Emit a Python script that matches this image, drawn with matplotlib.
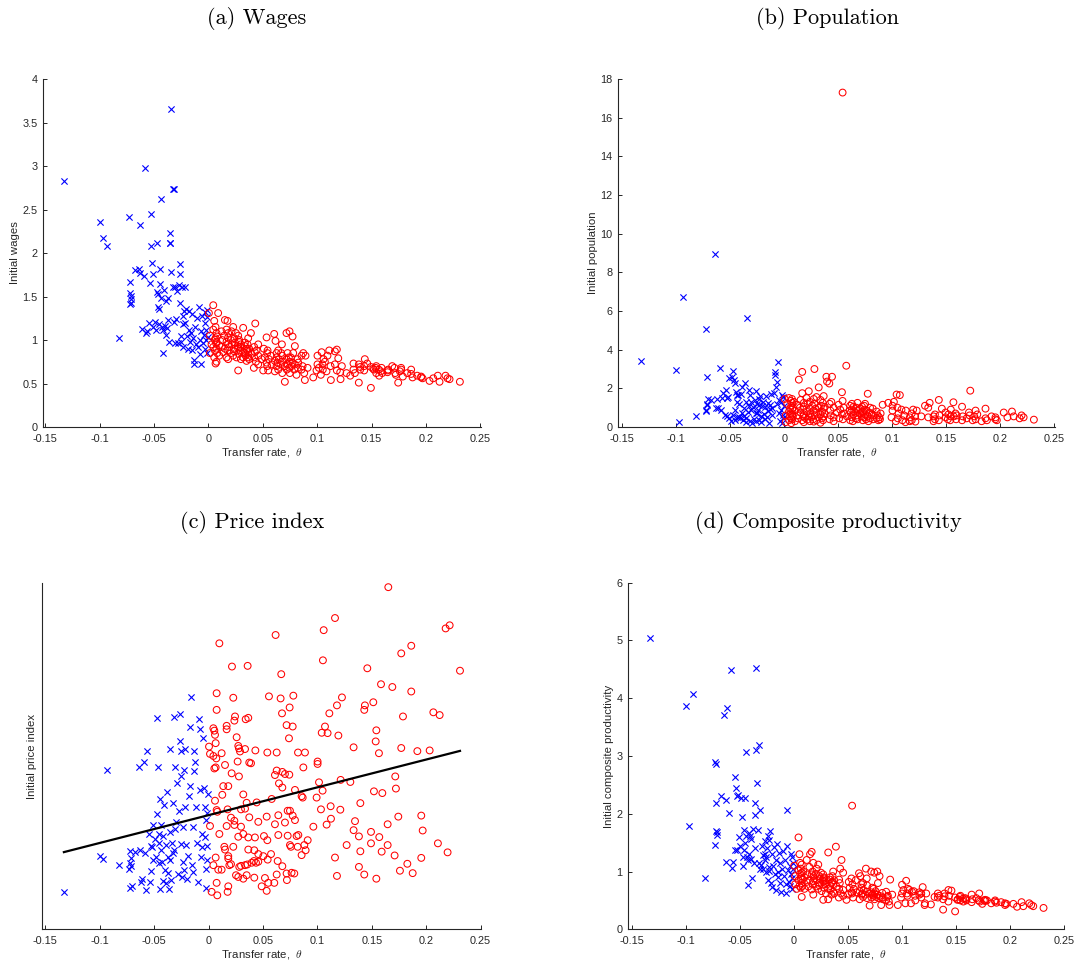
import numpy as np
import matplotlib
matplotlib.use("Agg")
import matplotlib.pyplot as plt
from matplotlib.ticker import FormatStrFormatter

plt.rcParams['font.family'] = ['Liberation Sans', 'DejaVu Sans']
plt.rcParams['mathtext.fontset'] = 'cm'

# ---------------------------------------------------------------- data
# locations with a negative transfer rate (blue crosses)
theta_neg = [-0.1330, -0.0998, -0.0973, -0.0935, -0.0820, -0.0728, -0.0724, -0.0722, -0.0720, -0.0716,
             -0.0712, -0.0708, -0.0676, -0.0643, -0.0630, -0.0625, -0.0615, -0.0595, -0.0585, -0.0575,
             -0.0563, -0.0548, -0.0539, -0.0532, -0.0527, -0.0523, -0.0514, -0.0508, -0.0493, -0.0484,
             -0.0477, -0.0471, -0.0465, -0.0460, -0.0456, -0.0452, -0.0448, -0.0442, -0.0440, -0.0436,
             -0.0425, -0.0422, -0.0415, -0.0410, -0.0400, -0.0395, -0.0392, -0.0382, -0.0375, -0.0370,
             -0.0362, -0.0358, -0.0355, -0.0352, -0.0346, -0.0340, -0.0330, -0.0325, -0.0320, -0.0315,
             -0.0310, -0.0305, -0.0298, -0.0288, -0.0280, -0.0270, -0.0265, -0.0262, -0.0258, -0.0255,
             -0.0250, -0.0242, -0.0235, -0.0232, -0.0230, -0.0228, -0.0220, -0.0214, -0.0205, -0.0198,
             -0.0190, -0.0183, -0.0175, -0.0168, -0.0160, -0.0153, -0.0147, -0.0141, -0.0134, -0.0130,
             -0.0125, -0.0116, -0.0110, -0.0098, -0.0090, -0.0082, -0.0076, -0.0070, -0.0065, -0.0060,
             -0.0051, -0.0045, -0.0035, -0.0030, -0.0028, -0.0024, -0.0020, -0.0016, -0.0012, -0.0010,
             -0.0006]
wage_neg = [2.83, 2.36, 2.17, 2.08, 1.02, 2.41, 1.41, 1.67, 1.54, 1.43,
            1.51, 1.47, 1.81, 1.82, 1.77, 2.32, 1.13, 1.74, 2.98, 1.08,
            1.10, 1.19, 1.66, 2.45, 2.08, 1.88, 1.15, 1.76, 1.21, 1.11,
            2.11, 1.55, 1.53, 1.38, 1.36, 1.18, 1.64, 1.82, 2.62, 1.48,
            1.15, 0.85, 1.11, 1.57, 1.16, 1.45, 1.06, 1.14, 1.48, 1.23,
            0.98, 2.23, 2.11, 2.11, 3.65, 1.78, 2.74, 1.61, 1.21, 2.74,
            0.97, 1.61, 1.24, 1.56, 0.97, 1.63, 1.87, 1.76, 1.42, 0.98,
            1.05, 1.61, 0.92, 1.18, 1.28, 1.33, 1.61, 1.20, 1.36, 1.05,
            0.90, 1.12, 1.33, 0.98, 1.08, 1.30, 0.88, 1.02, 0.77, 0.72,
            1.15, 0.95, 1.25, 0.92, 1.38, 1.00, 0.84, 0.73, 1.10, 1.28,
            0.96, 1.06, 1.20, 0.90, 1.32, 1.12, 1.00, 0.85, 1.26, 1.35,
            1.04]
pop_neg = [3.43, 2.95, 0.27, 6.72, 0.59, 5.05, 0.82, 0.88, 1.14, 2.57,
           1.20, 1.45, 1.40, 8.95, 1.00, 1.43, 0.97, 3.07, 0.88, 1.48,
           1.74, 0.62, 1.91, 1.48, 0.55, 1.55, 2.55, 0.45, 0.30, 2.60,
           0.62, 2.91, 2.43, 0.36, 0.88, 2.26, 1.83, 1.66, 0.50, 1.31,
           1.66, 0.53, 1.20, 0.45, 1.70, 0.70, 2.09, 0.36, 1.00, 0.55,
           2.26, 0.27, 1.30, 0.45, 5.65, 0.80, 1.91, 1.10, 0.30, 1.66,
           0.90, 1.31, 0.20, 1.05, 0.40, 1.40, 0.70, 1.85, 0.30, 1.20,
           0.75, 0.90, 1.15, 0.35, 1.45, 1.60, 0.55, 0.25, 1.10, 1.31,
           0.65, 1.05, 0.40, 1.60, 0.53, 0.85, 1.25, 0.20, 0.95, 1.14,
           1.70, 0.60, 1.00, 1.74, 2.86, 2.69, 2.09, 1.20, 2.34, 3.38,
           1.40, 0.75, 0.30, 1.30, 0.88, 0.20, 1.65, 1.55, 0.45, 0.60,
           1.10]
price_neg = [0.108, 0.211, 0.202, 0.460, 0.185, 0.175, 0.120, 0.226, 0.190, 0.182,
             0.205, 0.124, 0.224, 0.467, 0.228, 0.137, 0.144, 0.484, 0.221, 0.113,
             0.515, 0.275, 0.137, 0.240, 0.169, 0.238, 0.201, 0.301, 0.260, 0.210,
             0.609, 0.334, 0.469, 0.275, 0.250, 0.192, 0.375, 0.116, 0.300, 0.230,
             0.195, 0.140, 0.270, 0.360, 0.170, 0.243, 0.134, 0.397, 0.163, 0.209,
             0.115, 0.281, 0.520, 0.200, 0.142, 0.250, 0.219, 0.365, 0.612, 0.228,
             0.288, 0.469, 0.310, 0.423, 0.159, 0.342, 0.620, 0.543, 0.443, 0.246,
             0.513, 0.151, 0.296, 0.195, 0.460, 0.171, 0.519, 0.354, 0.243, 0.146,
             0.211, 0.384, 0.413, 0.583, 0.671, 0.185, 0.166, 0.296, 0.515, 0.458,
             0.484, 0.352, 0.250, 0.137, 0.606, 0.577, 0.402, 0.209, 0.275, 0.238,
             0.551, 0.407, 0.354, 0.265, 0.175, 0.118, 0.315, 0.336, 0.199, 0.240,
             0.390]
prod_neg = [5.05, 3.87, 1.79, 4.08, 0.88, 2.89, 1.46, 2.86, 2.18, 1.71,
            1.64, 1.69, 2.30, 3.71, 2.24, 1.16, 3.83, 2.01, 4.49, 1.06,
            1.16, 2.64, 1.38, 2.44, 2.30, 1.37, 2.32, 1.60, 1.45, 2.28,
            1.95, 1.10, 1.26, 1.72, 1.37, 2.28, 1.50, 3.07, 1.62, 1.25,
            0.77, 1.20, 1.66, 1.30, 1.61, 1.22, 1.57, 0.88, 1.74, 1.15,
            2.18, 1.97, 1.40, 3.10, 4.53, 2.54, 1.72, 1.15, 3.19, 1.05,
            2.06, 1.12, 1.45, 1.28, 1.05, 1.52, 1.20, 1.30, 1.26, 1.00,
            1.40, 1.62, 0.85, 1.55, 1.01, 1.08, 1.70, 0.80, 1.30, 0.74,
            1.10, 1.42, 0.95, 1.20, 0.68, 1.48, 1.00, 0.90, 1.32, 0.80,
            1.15, 0.65, 1.05, 1.35, 0.92, 1.20, 0.78, 0.63, 1.45, 2.06,
            1.02, 0.82, 1.10, 0.75, 0.95, 1.30, 1.25, 0.70, 0.88, 1.15,
            1.05]

# locations with a positive transfer rate (red circles)
theta_pos = [0.0004, 0.0013, 0.0013, 0.0028, 0.0044, 0.0044, 0.0044, 0.0053, 0.0053, 0.0059,
             0.0059, 0.0065, 0.0065, 0.0065, 0.0071, 0.0074, 0.0074, 0.0074, 0.0074, 0.0080,
             0.0080, 0.0089, 0.0099, 0.0099, 0.0120, 0.0120, 0.0126, 0.0135, 0.0145, 0.0151,
             0.0151, 0.0166, 0.0166, 0.0166, 0.0175, 0.0175, 0.0181, 0.0181, 0.0181, 0.0181,
             0.0191, 0.0206, 0.0206, 0.0212, 0.0215, 0.0227, 0.0227, 0.0237, 0.0237, 0.0237,
             0.0243, 0.0252, 0.0258, 0.0267, 0.0273, 0.0273, 0.0273, 0.0279, 0.0279, 0.0282,
             0.0289, 0.0298, 0.0298, 0.0298, 0.0319, 0.0319, 0.0319, 0.0335, 0.0335, 0.0335,
             0.0341, 0.0350, 0.0350, 0.0356, 0.0359, 0.0365, 0.0365, 0.0365, 0.0374, 0.0374,
             0.0390, 0.0396, 0.0417, 0.0420, 0.0420, 0.0426, 0.0430, 0.0436, 0.0442, 0.0457,
             0.0457, 0.0457, 0.0488, 0.0503, 0.0509, 0.0518, 0.0534, 0.0534, 0.0540, 0.0540,
             0.0543, 0.0549, 0.0555, 0.0574, 0.0580, 0.0604, 0.0610, 0.0610, 0.0616, 0.0626,
             0.0626, 0.0626, 0.0635, 0.0641, 0.0641, 0.0647, 0.0662, 0.0668, 0.0675, 0.0678,
             0.0678, 0.0678, 0.0702, 0.0702, 0.0717, 0.0717, 0.0720, 0.0727, 0.0727, 0.0739,
             0.0742, 0.0745, 0.0748, 0.0748, 0.0757, 0.0763, 0.0773, 0.0773, 0.0779, 0.0788,
             0.0794, 0.0794, 0.0809, 0.0819, 0.0822, 0.0825, 0.0855, 0.0855, 0.0865, 0.0871,
             0.0880, 0.0886, 0.0892, 0.0911, 0.0963, 0.0993, 0.1002, 0.1002, 0.1015, 0.1033,
             0.1040, 0.1048, 0.1051, 0.1058, 0.1070, 0.1085, 0.1094, 0.1110, 0.1122, 0.1125,
             0.1162, 0.1162, 0.1180, 0.1180, 0.1193, 0.1211, 0.1214, 0.1226, 0.1269, 0.1303,
             0.1333, 0.1333, 0.1346, 0.1382, 0.1382, 0.1395, 0.1395, 0.1431, 0.1431, 0.1437,
             0.1459, 0.1493, 0.1493, 0.1514, 0.1520, 0.1536, 0.1542, 0.1542, 0.1566, 0.1569,
             0.1585, 0.1591, 0.1597, 0.1646, 0.1646, 0.1652, 0.1689, 0.1710, 0.1716, 0.1722,
             0.1744, 0.1759, 0.1771, 0.1771, 0.1787, 0.1827, 0.1863, 0.1863, 0.1876, 0.1919,
             0.1955, 0.1955, 0.1968, 0.2032, 0.2066, 0.2108, 0.2124, 0.2179, 0.2197, 0.2216,
             0.2311]
wage_pos = [1.31, 0.85, 1.05, 0.95, 1.40, 0.92, 1.12, 1.22, 0.80, 1.00,
            0.88, 1.15, 0.73, 1.02, 0.96, 0.90, 1.08, 0.75, 0.98, 0.85,
            1.04, 1.31, 0.94, 0.82, 1.10, 0.92, 1.00, 0.86, 1.05, 1.23,
            0.90, 0.98, 1.12, 0.80, 1.22, 0.88, 1.03, 0.95, 0.78, 1.08,
            0.92, 1.00, 0.85, 1.10, 0.95, 0.82, 1.15, 0.90, 1.02, 0.87,
            0.97, 1.08, 0.80, 0.93, 1.05, 0.65, 0.90, 0.98, 0.84, 1.00,
            0.88, 0.95, 0.78, 0.92, 1.14, 0.86, 0.80, 0.93, 0.85, 0.97,
            0.82, 0.90, 0.76, 0.88, 0.95, 0.80, 0.86, 1.02, 0.78, 0.90,
            1.08, 0.84, 0.68, 0.92, 0.80, 0.86, 1.19, 0.75, 0.88, 0.95,
            0.82, 0.72, 0.78, 0.65, 0.90, 0.80, 1.03, 0.74, 0.85, 0.70,
            0.88, 0.65, 0.78, 0.82, 0.72, 1.07, 0.76, 0.64, 0.99, 0.85,
            0.70, 0.80, 0.74, 0.88, 0.66, 0.78, 0.72, 0.85, 0.95, 0.62,
            0.75, 0.82, 0.52, 0.70, 1.08, 0.78, 0.66, 0.85, 0.72, 0.80,
            0.68, 1.10, 0.75, 0.62, 0.80, 0.70, 1.04, 0.74, 0.85, 0.66,
            0.93, 0.72, 0.60, 0.78, 0.68, 0.74, 0.82, 0.66, 0.70, 0.85,
            0.62, 0.54, 0.82, 0.68, 0.57, 0.65, 0.72, 0.82, 0.68, 0.60,
            0.86, 0.72, 0.66, 0.78, 0.75, 0.64, 0.82, 0.88, 0.70, 0.54,
            0.87, 0.72, 0.89, 0.65, 0.79, 0.63, 0.55, 0.70, 0.62, 0.59,
            0.73, 0.66, 0.62, 0.51, 0.72, 0.69, 0.66, 0.70, 0.65, 0.78,
            0.73, 0.45, 0.69, 0.67, 0.66, 0.68, 0.62, 0.70, 0.66, 0.59,
            0.64, 0.68, 0.62, 0.65, 0.63, 0.66, 0.70, 0.68, 0.62, 0.60,
            0.51, 0.64, 0.66, 0.68, 0.58, 0.62, 0.66, 0.61, 0.57, 0.59,
            0.58, 0.57, 0.56, 0.53, 0.56, 0.59, 0.52, 0.59, 0.56, 0.55,
            0.52]
pop_pos = [1.45, 0.60, 0.25, 1.20, 0.80, 1.50, 0.35, 0.95, 0.55, 1.35,
           0.70, 0.45, 1.10, 0.20, 1.45, 0.65, 1.25, 0.90, 0.40, 1.00,
           0.55, 1.30, 0.85, 0.30, 1.15, 0.60, 0.45, 2.45, 1.00, 0.75,
           1.40, 2.85, 1.75, 0.35, 0.90, 0.55, 1.25, 0.25, 0.65, 1.05,
           0.48, 1.50, 0.80, 0.38, 1.20, 0.55, 1.85, 0.95, 0.30, 1.30,
           0.70, 0.50, 1.10, 0.40, 1.45, 0.85, 0.28, 3.00, 1.20, 0.60,
           0.95, 0.35, 1.55, 0.75, 2.05, 0.50, 1.00, 0.22, 1.40, 0.65,
           1.10, 0.45, 0.80, 1.25, 0.35, 0.95, 0.55, 1.60, 0.70, 1.05,
           2.60, 2.35, 2.25, 0.40, 1.20, 0.85, 0.60, 1.30, 2.60, 0.50,
           1.00, 0.30, 0.75, 1.15, 0.45, 0.90, 1.80, 0.65, 17.30, 1.35,
           0.40, 1.00, 0.70, 3.17, 0.55, 0.85, 1.10, 0.35, 0.75, 1.20,
           0.50, 0.90, 0.30, 0.65, 1.05, 0.80, 0.45, 1.00, 0.60, 0.85,
           1.25, 0.40, 0.70, 0.95, 0.55, 0.75, 1.05, 0.35, 0.80, 1.10,
           0.50, 0.90, 0.65, 1.20, 0.40, 0.85, 0.55, 1.72, 0.30, 0.75,
           1.00, 0.45, 0.65, 0.95, 0.40, 0.60, 0.80, 0.45, 0.60, 0.35,
           0.50, 0.40, 0.70, 1.15, 1.25, 0.50, 1.10, 0.85, 1.30, 0.30,
           1.68, 1.00, 0.45, 0.70, 1.65, 0.90, 0.35, 0.60, 0.25, 0.85,
           0.50, 0.30, 0.70, 0.35, 0.90, 0.55, 0.28, 0.85, 0.55, 1.10,
           1.00, 0.50, 1.25, 0.30, 0.55, 0.40, 0.65, 1.40, 0.35, 0.60,
           0.95, 0.50, 0.75, 0.40, 0.65, 0.35, 0.55, 0.90, 1.28, 0.55,
           0.70, 0.40, 0.60, 1.05, 0.35, 0.55, 0.45, 0.75, 0.60, 1.88,
           0.35, 0.55, 0.85, 0.40, 0.65, 0.30, 0.95, 0.45, 0.35, 0.55,
           0.40, 0.50, 0.35, 0.75, 0.50, 0.80, 0.55, 0.45, 0.60, 0.50,
           0.38]
price_pos = [0.527, 0.506, 0.298, 0.108, 0.580, 0.500, 0.185, 0.573, 0.464, 0.561,
             0.371, 0.537, 0.467, 0.207, 0.493, 0.681, 0.633, 0.344, 0.134, 0.339,
             0.098, 0.172, 0.825, 0.275, 0.508, 0.172, 0.388, 0.413, 0.238, 0.474,
             0.230, 0.587, 0.577, 0.298, 0.346, 0.108, 0.413, 0.211, 0.204, 0.124,
             0.185, 0.322, 0.188, 0.450, 0.758, 0.668, 0.238, 0.602, 0.313, 0.301,
             0.614, 0.156, 0.554, 0.484, 0.529, 0.267, 0.151, 0.522, 0.441, 0.180,
             0.513, 0.346, 0.296, 0.183, 0.389, 0.275, 0.146, 0.520, 0.348, 0.185,
             0.606, 0.365, 0.156, 0.187, 0.760, 0.610, 0.265, 0.230, 0.481, 0.323,
             0.479, 0.192, 0.197, 0.228, 0.149, 0.265, 0.516, 0.192, 0.366, 0.310,
             0.217, 0.195, 0.124, 0.211, 0.269, 0.148, 0.325, 0.111, 0.510, 0.257,
             0.201, 0.134, 0.672, 0.217, 0.376, 0.134, 0.445, 0.303, 0.849, 0.510,
             0.458, 0.158, 0.197, 0.329, 0.272, 0.421, 0.666, 0.736, 0.623, 0.454,
             0.409, 0.182, 0.448, 0.308, 0.589, 0.161, 0.142, 0.342, 0.270, 0.551,
             0.446, 0.640, 0.342, 0.243, 0.238, 0.163, 0.585, 0.328, 0.674, 0.161,
             0.402, 0.315, 0.269, 0.238, 0.510, 0.272, 0.384, 0.214, 0.380, 0.467,
             0.243, 0.510, 0.228, 0.257, 0.296, 0.380, 0.484, 0.477, 0.424, 0.346,
             0.567, 0.400, 0.776, 0.863, 0.585, 0.302, 0.566, 0.623, 0.355, 0.319,
             0.898, 0.207, 0.646, 0.154, 0.559, 0.345, 0.431, 0.669, 0.243, 0.425,
             0.525, 0.286, 0.312, 0.268, 0.180, 0.364, 0.225, 0.633, 0.158, 0.646,
             0.753, 0.281, 0.248, 0.655, 0.398, 0.542, 0.574, 0.146, 0.508, 0.266,
             0.707, 0.224, 0.393, 0.303, 0.243, 0.987, 0.699, 0.213, 0.441, 0.406,
             0.325, 0.169, 0.796, 0.523, 0.614, 0.189, 0.818, 0.686, 0.162, 0.514,
             0.328, 0.206, 0.285, 0.516, 0.626, 0.248, 0.618, 0.868, 0.222, 0.877,
             0.746]
prod_pos = [1.10, 0.78, 0.92, 0.70, 1.59, 0.85, 1.02, 1.30, 0.75, 0.96,
            1.15, 0.88, 0.72, 1.05, 0.92, 0.80, 1.12, 0.56, 0.98, 0.86,
            0.75, 1.00, 0.90, 0.70, 1.20, 0.82, 0.95, 0.74, 1.08, 1.30,
            0.85, 0.95, 1.34, 0.69, 1.00, 0.78, 0.92, 0.83, 0.60, 1.15,
            0.88, 0.96, 0.74, 1.05, 0.85, 0.70, 1.12, 0.80, 0.92, 0.76,
            0.88, 0.98, 0.66, 0.85, 0.95, 0.51, 0.82, 0.90, 0.72, 0.88,
            0.78, 0.85, 0.62, 0.80, 1.33, 0.52, 0.70, 0.86, 0.75, 0.90,
            0.68, 0.80, 0.60, 0.82, 0.92, 0.65, 0.78, 1.00, 0.62, 0.85,
            1.43, 0.74, 0.55, 0.86, 0.70, 0.80, 1.05, 0.62, 1.20, 0.98,
            0.68, 0.58, 0.51, 0.60, 0.82, 0.72, 0.88, 0.64, 2.14, 0.62,
            0.78, 0.55, 0.70, 0.85, 0.64, 0.97, 0.66, 0.52, 0.92, 0.78,
            0.60, 0.72, 0.62, 0.80, 0.56, 0.68, 0.60, 1.05, 0.88, 0.54,
            0.65, 0.76, 0.41, 0.62, 1.00, 0.64, 0.55, 0.72, 0.60, 0.70,
            0.58, 0.98, 0.62, 0.52, 0.66, 0.56, 1.00, 0.60, 0.80, 0.54,
            0.92, 0.58, 0.42, 0.63, 0.55, 0.52, 0.65, 0.50, 0.56, 0.58,
            0.48, 0.42, 0.86, 0.60, 0.42, 0.55, 0.62, 0.77, 0.68, 0.45,
            0.84, 0.62, 0.58, 0.70, 0.68, 0.45, 0.65, 0.66, 0.58, 0.50,
            0.64, 0.60, 0.62, 0.55, 0.73, 0.42, 0.45, 0.62, 0.43, 0.56,
            0.62, 0.55, 0.58, 0.34, 0.52, 0.62, 0.57, 0.68, 0.48, 0.58,
            0.67, 0.31, 0.55, 0.51, 0.52, 0.56, 0.50, 0.58, 0.53, 0.48,
            0.54, 0.52, 0.50, 0.60, 0.47, 0.52, 0.54, 0.50, 0.62, 0.48,
            0.44, 0.50, 0.51, 0.49, 0.50, 0.45, 0.48, 0.50, 0.46, 0.47,
            0.45, 0.42, 0.44, 0.44, 0.39, 0.47, 0.40, 0.45, 0.42, 0.40,
            0.37]

x_ticks = [-0.15, -0.1, -0.05, 0, 0.05, 0.1, 0.15, 0.2, 0.25]
x_ticklabels = ['-0.15', '-0.1', '-0.05', '0', '0.05', '0.1', '0.15', '0.2', '0.25']

# ---------------------------------------------------------------- figure
fig = plt.figure(figsize=(10.86, 9.65), dpi=100)

axcol = '#262626'

panels = [
    # rect, xlim, y-neg, y-pos, ylim, yticks, ylabel, ylabel x, title, title pos
    ([0.0396, 0.5575, 0.4033, 0.3606], (-0.1521, 0.2505), wage_neg, wage_pos, (0, 4),
     [0, 0.5, 1, 1.5, 2, 2.5, 3, 3.5, 4], 'Initial wages', -0.0525,
     '(a) Wages', (257, 18)),
    ([0.5693, 0.5575, 0.4021, 0.3606], (-0.1537, 0.2506), pop_neg, pop_pos, (0, 18),
     [0, 2, 4, 6, 8, 10, 12, 14, 16, 18], 'Initial population', -0.0465,
     '(b) Population', (827, 18)),
    ([0.0390, 0.0370, 0.4040, 0.3592], (-0.1528, 0.2505), price_neg, price_pos, (0, 1),
     [], 'Initial price index', -0.012,
     '(c) Price index', (252, 522)),
    ([0.5785, 0.0370, 0.4015, 0.3592], (-0.1531, 0.2503), prod_neg, prod_pos, (0, 6),
     [0, 1, 2, 3, 4, 5, 6], 'Initial composite productivity', -0.033,
     '(d) Composite productivity', (828, 522)),
]

axes = []
for rect, xl, yneg, ypos, yl, yt, ylab, ylx, title, tpos in panels:
    ax = fig.add_axes(rect)
    ax.scatter(theta_neg, yneg, marker='x', s=20, c='#0000ff', linewidths=0.8, zorder=2)
    ax.scatter(theta_pos, ypos, marker='o', s=24, facecolors='none', edgecolors='#ff0000',
               linewidths=0.75, zorder=3)
    ax.set_xlim(*xl)
    ax.set_ylim(*yl)
    ax.set_xticks(x_ticks)
    ax.set_xticklabels(x_ticklabels)
    ax.set_yticks(yt)
    ax.yaxis.set_major_formatter(FormatStrFormatter('%g'))
    ax.spines['top'].set_visible(False)
    ax.spines['right'].set_visible(False)
    for s in ('left', 'bottom'):
        ax.spines[s].set_color(axcol)
        ax.spines[s].set_linewidth(0.8)
    ax.tick_params(direction='in', length=3, width=0.7, colors=axcol, labelsize=7.8)
    ax.tick_params(axis='x', pad=5)
    ax.tick_params(axis='y', pad=4)
    ax.set_xlabel('Transfer rate,  $\\theta$', fontsize=8.2, color=axcol)
    ax.xaxis.set_label_coords(0.5, -0.055)
    ax.set_ylabel(ylab, fontsize=8.2, color=axcol)
    ax.yaxis.set_label_coords(ylx, 0.5)
    fig.text(tpos[0] / 1086, 1 - tpos[1] / 965, title, family='cmr10', fontsize=16,
             ha='center', va='center')
    axes.append(ax)

# least-squares line through all price-index points
th_all = np.array(theta_neg + theta_pos)
pr_all = np.array(price_neg + price_pos)
slope, icpt = np.polyfit(th_all, pr_all, 1)
xx = np.array([th_all.min(), th_all.max()])
axes[2].plot(xx, icpt + slope * xx, color='black', linewidth=1.6, zorder=4)

fig.savefig('out.png', dpi=100)
